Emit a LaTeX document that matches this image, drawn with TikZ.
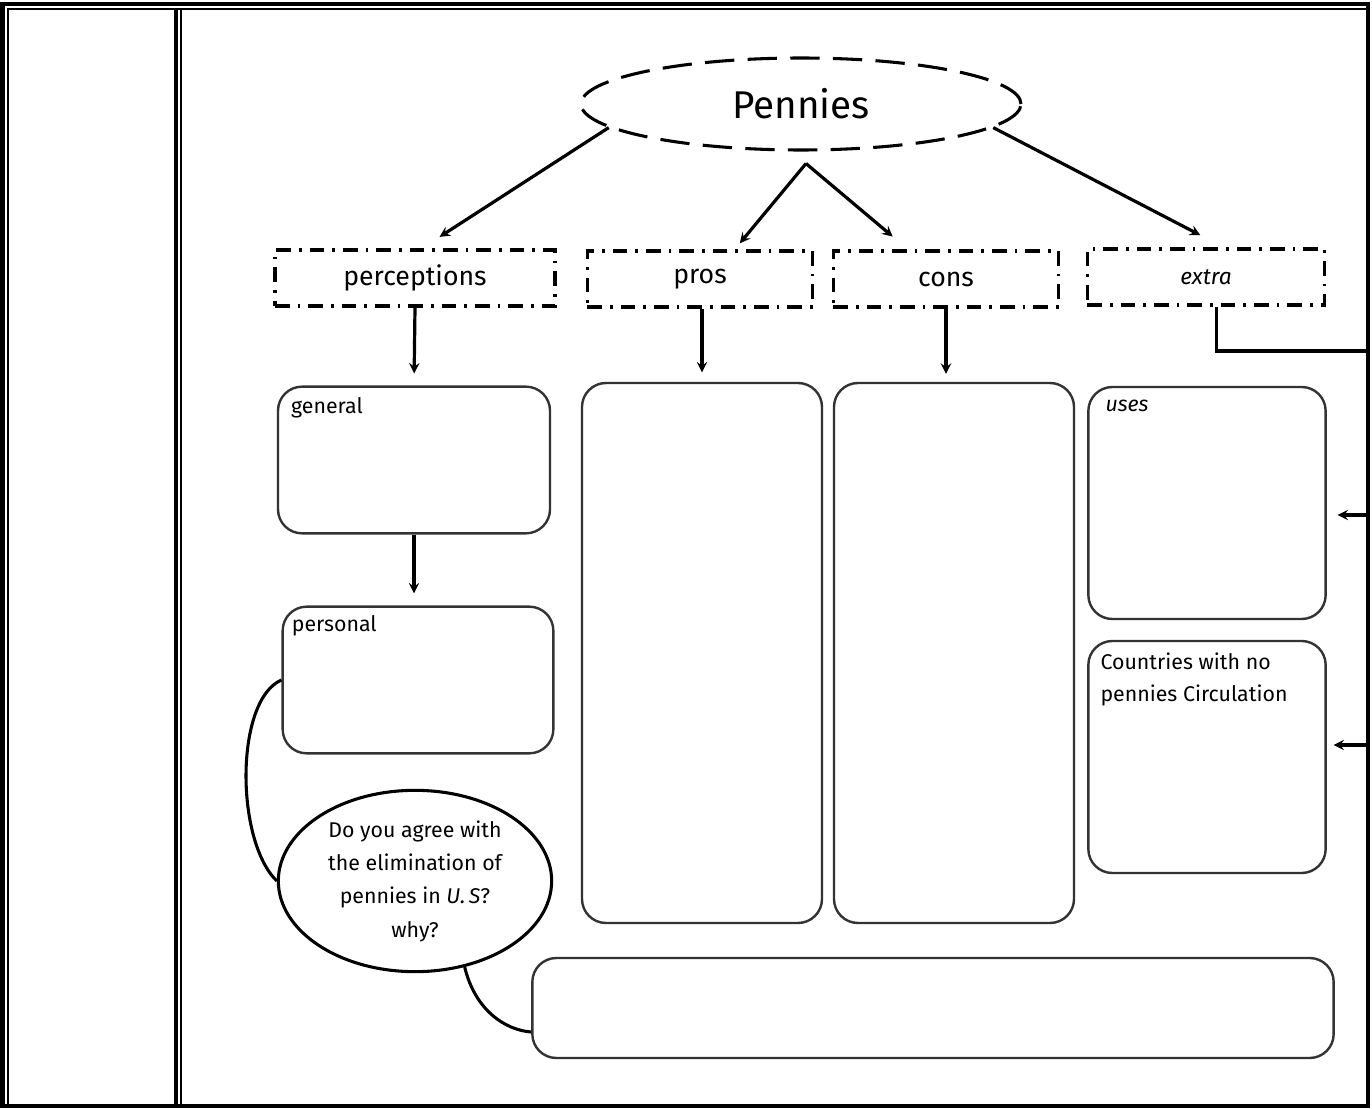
\documentclass[tikz,border=0pt]{standalone}
\usepackage{fontspec}
\setmainfont{Fira Sans}
\usetikzlibrary{arrows, shapes.geometric}

\begin{document}
\begin{tikzpicture}[
            x = 0.75pt, y = -0.75pt, % one unit = one pixel of the sheet
            > = stealth, % arrow head style
            semithick % line style
        ]

        \tikzstyle{header}=[
            draw = black,
            line width = 2.3pt,
            dash pattern = on 11pt off 6pt on 2pt off 6pt,
            minimum height = 42pt,
            font = \fontsize{20}{24}\selectfont
        ]
        \tikzstyle{card}=[
            draw = black!80,
            line width = 1.8pt,
            rounded corners = 18pt
        ]
        \tikzstyle{tag}=[
            anchor = north west,
            inner sep = 0pt,
            font = \fontsize{16}{24}\selectfont
        ]
        \tikzstyle{link}=[->, line width = 2.4pt]

        \useasboundingbox (0,0) rectangle (1372,1109);

        % sheet frame
        \draw[line width = 3pt] (2.5,4) rectangle (1368,1106);
        \draw[line width = 1.5pt] (8,1106) -- (8,9) -- (1368,9);
        \draw[line width = 3pt] (175.5,9) -- (175.5,1106);
        \draw[line width = 1.5pt] (181,9) -- (181,1106);

        % main topic
        \node[ellipse, draw, line width = 2.3pt, dash pattern = on 22pt off 10pt,
              minimum width = 330pt, minimum height = 69pt,
              font = \fontsize{29}{34}\selectfont] (pennies) at (801,104) {Pennies};

        % headers
        \node[header, minimum width = 210pt] (perceptions) at (415,278) {perceptions};
        \node[header, minimum width = 169pt] (pros) at (700,279) {pros};
        \node[header, minimum width = 169pt] (cons) at (946,279) {cons};
        \node[header, minimum width = 178pt,
              font = \fontsize{17}{20}\selectfont\itshape] (extra) at (1206,277) {extra};

        % cards
        \node[card, minimum width = 204pt, minimum height = 110pt] (general) at (414,460) {};
        \node[card, minimum width = 203pt, minimum height = 110pt] (personal) at (418,680) {};
        \node[card, minimum width = 180pt, minimum height = 405pt] (prosbox) at (702,653) {};
        \node[card, minimum width = 180pt, minimum height = 405pt] (consbox) at (954,653) {};
        \node[card, minimum width = 178pt, minimum height = 174pt] (uses) at (1207,503) {};
        \node[card, minimum width = 178pt, minimum height = 174pt] (countries) at (1207,757) {};
        \node[card, minimum width = 601pt, minimum height = 75pt] (answer) at (933,1008) {};

        \node[tag] (general-tag) at ([shift={(14,12)}]general.north west) {general};
        \node[tag] (personal-tag) at ([shift={(10,10)}]personal.north west) {personal};
        \node[tag, font = \fontsize{16}{24}\selectfont\itshape] (uses-tag)
            at ([shift={(18,14)}]uses.north west) {uses};
        \node[tag, align = left] (countries-tag) at ([shift={(13,13)}]countries.north west)
            {Countries with no\\pennies Circulation};

        % question
        \node[ellipse, draw, line width = 2.3pt,
              minimum width = 205pt, minimum height = 136pt] (question) at (415,881) {};
        \node[align = center, font = \fontsize{16}{25}\selectfont] (question-text)
            at (question.center) {Do you agree with\\the elimination of\\pennies in \textit{U.\,S}?\\why?};

        % links
        \coordinate (fork) at ([shift={(5,12)}]pennies.south);
        \draw[link, shorten > = 16pt] (pennies.187) -- ([xshift = 5pt]perceptions.north);
        \draw[link, shorten > = 6pt] (fork) -- ([xshift = 26pt]pros.north);
        \draw[link, shorten > = 15pt] (fork) -- ([xshift = -28.5pt]cons.north);
        \draw[link, shorten > = 20pt] (pennies.353) -- ([xshift = 13.5pt]extra.north);

        \draw[link, shorten > = 9pt] (perceptions.south) -- (general.north);
        \draw[link, shorten > = 9pt] (general.south) -- (general.south |- personal.north);
        \draw[link, shorten > = 7pt] (prosbox.north |- pros.south) -- (prosbox.north);
        \draw[link, shorten > = 6pt] (cons.south) -- (cons.south |- consbox.north);

        \coordinate (bus) at (1368,351);
        \coordinate (bus-uses) at (1368,515);
        \coordinate (bus-countries) at (1368,745);
        \draw[line width = 2.4pt] ([xshift = 8pt]extra.south) |- (bus);
        \draw[link, shorten > = 8pt] (bus-uses) -- (bus-uses -| uses.east);
        \draw[link, shorten > = 5pt] (bus-countries) -- (bus-countries -| countries.east);

        \draw[line width = 2.3pt] (personal.west) .. controls (235,700) and (235,840) .. (question.180);
        \draw[line width = 2.3pt] (question.300) .. controls (475,1010) and (505,1030) .. ([yshift = -18pt]answer.west);

    \end{tikzpicture}
\end{document}
